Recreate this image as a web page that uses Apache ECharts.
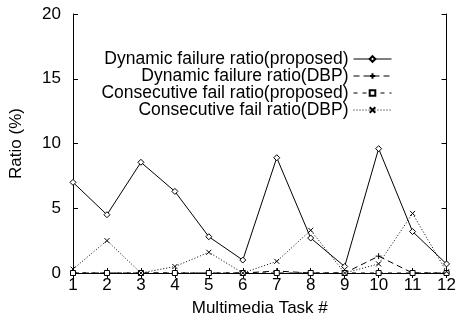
<!DOCTYPE html>
<html>
<head>
<meta charset="utf-8">
<script src="https://cdn.jsdelivr.net/npm/echarts@6/dist/echarts.min.js"></script>
<style>
html,body{margin:0;padding:0;background:#fff;}
#main{width:459px;height:322px;}
</style>
</head>
<body>
<div id="main"></div>
<script>
var tasks = [1, 2, 3, 4, 5, 6, 7, 8, 9, 10, 11, 12];
var dynProposed = [7.0, 4.5, 8.55, 6.3, 2.8, 1.0, 8.9, 2.7, 0.5, 9.6, 3.2, 0.7];
var dynDBP = [0, 0, 0, 0, 0, 0, 0.15, 0, 0, 1.3, 0, 0];
var consProposed = [0, 0, 0, 0, 0, 0, 0, 0, 0, 0, 0, 0];
var consDBP = [0.3, 2.5, 0, 0.5, 1.6, 0, 0.9, 3.3, 0, 0.7, 4.6, 0.1];

var names = [
  'Dynamic failure ratio(proposed)',
  'Dynamic failure ratio(DBP)',
  'Consecutive fail ratio(proposed)',
  'Consecutive fail ratio(DBP)'
];

function pairs(vals) {
  return tasks.map(function (t, i) { return [t, vals[i]]; });
}

var plus = 'path://M0,5L10,5M5,0L5,10';
var cross = 'path://M0,0L10,10M10,0L0,10';
var font = 'Liberation Sans';

function mkSeries(name, vals, symbol, size, dash, fill) {
  return {
    name: name,
    type: 'line',
    data: pairs(vals),
    symbol: symbol,
    symbolSize: size,
    showSymbol: true,
    xAxisIndex: 0,
    yAxisIndex: 0,
    lineStyle: { color: '#000', width: 1, type: dash },
    itemStyle: { color: fill, borderColor: '#000', borderWidth: 1 },
    emphasis: { disabled: true },
    animation: false
  };
}

function mkLegend(name, top) {
  return {
    data: [name],
    right: 62,
    top: top,
    align: 'right',
    itemWidth: 38,
    itemHeight: 7,
    itemGap: 0,
    lineStyle: { width: 1 },
    textStyle: { fontFamily: font, fontSize: 17.5, color: '#000', padding: [0, 0, 0, 0] },
    selectedMode: false
  };
}

var chart = echarts.init(document.getElementById('main'));
var tickStyle = { show: true, inside: true, length: 5, lineStyle: { color: '#000' } };
chart.setOption({
  backgroundColor: '#fff',
  animation: false,
  grid: { left: 73, right: 10, top: 14, bottom: 47 },
  legend: [
    mkLegend(names[0], 45),
    mkLegend(names[1], 62),
    mkLegend(names[2], 79),
    mkLegend(names[3], 96)
  ],
  xAxis: [{
    type: 'value', min: 1, max: 12, interval: 1,
    name: 'Multimedia Task #', nameLocation: 'middle', nameGap: 27,
    nameTextStyle: { fontFamily: font, fontSize: 17, color: '#000' },
    axisLine: { show: true, onZero: false, lineStyle: { color: '#000' } },
    axisTick: tickStyle,
    axisLabel: { fontFamily: font, fontSize: 17, color: '#000', margin: 4 },
    splitLine: { show: false }
  }, {
    type: 'value', min: 1, max: 12, interval: 1, position: 'top',
    axisLine: { show: true, lineStyle: { color: '#000' } },
    axisTick: tickStyle,
    axisLabel: { show: false },
    splitLine: { show: false }
  }],
  yAxis: [{
    type: 'value', min: 0, max: 20, interval: 5,
    name: 'Ratio (%)', nameLocation: 'middle', nameGap: 48, nameRotate: 90,
    nameTextStyle: { fontFamily: font, fontSize: 17, color: '#000' },
    axisLine: { show: true, lineStyle: { color: '#000' } },
    axisTick: tickStyle,
    axisLabel: { fontFamily: font, fontSize: 17, color: '#000', margin: 12 },
    splitLine: { show: false }
  }, {
    type: 'value', min: 0, max: 20, interval: 5, position: 'right',
    axisLine: { show: true, lineStyle: { color: '#000' } },
    axisTick: tickStyle,
    axisLabel: { show: false },
    splitLine: { show: false }
  }],
  series: [
    mkSeries(names[0], dynProposed, 'diamond', 6, 'solid', '#fff'),
    mkSeries(names[1], dynDBP, plus, 6, [6, 4], '#000'),
    mkSeries(names[2], consProposed, 'rect', 5, [4, 5], '#fff'),
    mkSeries(names[3], consDBP, cross, 5, [1, 2], '#000')
  ]
});
</script>
</body>
</html>
